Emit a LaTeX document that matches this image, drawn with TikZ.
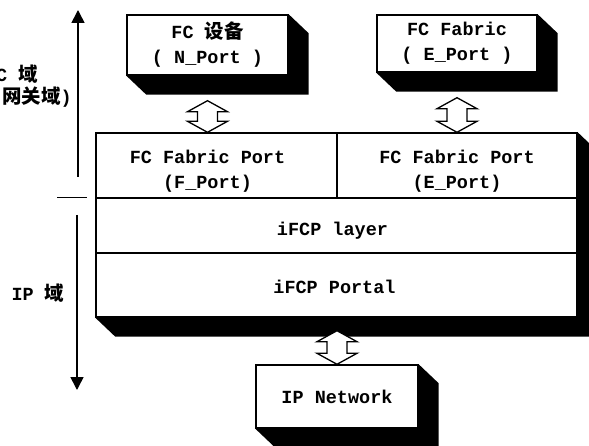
\documentclass[tikz,border=0pt]{standalone}
\usepackage{fontspec}
\setmainfont{Liberation Mono}
\newfontfamily\cjk{Noto Sans CJK SC}[Scale=1.05]
\usetikzlibrary{arrows.meta,calc}
\tikzset{
  face/.style={draw, line width=1.4pt, fill=white, inner sep=0pt, align=center},
  txt/.style={inner sep=0pt, align=center},
  hollow/.style={draw, line width=1.3pt, fill=white, line join=miter},
  domainarrow/.style={line width=1.6pt, -{Triangle[length=13pt,width=13pt]}},
}
\newcommand\boxshadow[2]{%
  \fill let \p1=(#1), \p2=(#2) in
    (\x1,\y1) -- (\x1+20pt,\y1-19pt) -- (\x2+20pt,\y1-19pt) -- (\x2+20pt,\y2-19pt)
    -- (\x2,\y2) -- (\x2,\y1) -- cycle;}
\newcommand\hollowarrow[2]{%
  \path[hollow] let \p1=(#1), \p2=(#2) in
    (\x1,\y1) -- (\x1+20pt,\y1-11pt) -- (\x1+10pt,\y1-11pt) -- (\x1+10pt,\y2+11pt)
    -- (\x1+20pt,\y2+11pt) -- (\x1,\y2) -- (\x1-20pt,\y2+11pt) -- (\x1-10pt,\y2+11pt)
    -- (\x1-10pt,\y1-11pt) -- (\x1-20pt,\y1-11pt) -- cycle;}
\begin{document}
\begin{tikzpicture}[x=1pt,y=-1pt,font=\fontsize{18.5}{25}\selectfont\bfseries]
\useasboundingbox (0,0) rectangle (589,446);
\clip (0,0) rectangle (589,446);
% top boxes
\node[face, minimum width=161, minimum height=60] (dev) at (207.5,45) {FC {\cjk 设备}\\( N\_Port )};
\node[face, minimum width=160, minimum height=57] (fab) at (457,43.5) {FC Fabric\\( E\_Port )};
\boxshadow{dev.south west}{dev.north east}
\boxshadow{fab.south west}{fab.north east}
% stack
\node[face, minimum width=241, minimum height=65] (fport) at (216.5,165.5) {};
\node[face, minimum width=240, minimum height=65] (eport) at (457,165.5) {};
\node[face, minimum width=481, minimum height=55] (layer) at (336.5,225.5) {};
\node[face, minimum width=481, minimum height=64] (portal) at (336.5,285) {};
\node[txt] (fportt) at ($(fport)+(-9,6)$) {FC Fabric Port\\(F\_Port)};
\node[txt] (eportt) at ($(eport)+(0,6)$) {FC Fabric Port\\(E\_Port)};
\node[txt] (layert) at ($(layer)+(-4,5)$) {iFCP layer};
\node[txt] (portalt) at ($(portal)+(-2,2)$) {iFCP Portal};
\boxshadow{portal.south west}{eport.north east}
% IP network
\node[face, minimum width=162, minimum height=63] (ipnet) at (337,396.5) {IP Network};
\boxshadow{ipnet.south west}{ipnet.north east}
% hollow double arrows
\hollowarrow{$(dev.south)+(0,25)$}{dev.south |- fport.north}
\hollowarrow{$(fab.south)+(0,25)$}{fab.south |- eport.north}
\hollowarrow{$(ipnet.north |- portal.south)+(0,13)$}{ipnet.north}
% domain arrows
\coordinate (fctop) at (78,10);
\coordinate (fcbot) at (78,177);
\coordinate (iptop) at (77,215);
\coordinate (ipbot) at (77,390);
\coordinate (dashl) at (57,198);
\coordinate (dashr) at (87,198);
\draw[domainarrow] (fcbot) -- (fctop);
\draw[domainarrow] (iptop) -- (ipbot);
\draw[line width=1pt] (dashl) -- (dashr);
% domain labels
\node[anchor=east, inner sep=0pt] (fcl1) at (38,74) {FC {\cjk 域}};
\node[anchor=east, inner sep=0pt] (fcl2) at (72,97) {({\cjk 网关域})};
\node[inner sep=0pt] (ipl) at (38,293) {IP {\cjk 域}};
\end{tikzpicture}
\end{document}
